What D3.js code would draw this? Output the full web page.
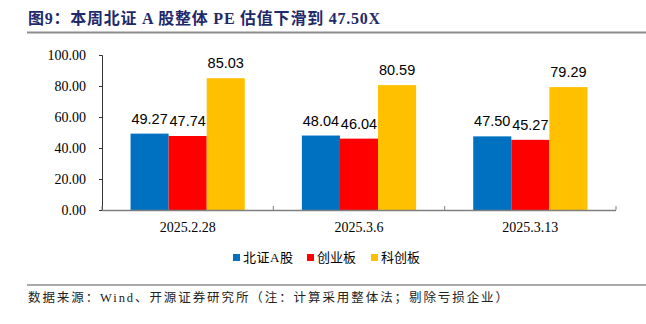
<!DOCTYPE html>
<html>
<head>
<meta charset="utf-8">
<script src="https://cdn.jsdelivr.net/npm/d3@7"></script>
<style>
  html, body { margin: 0; padding: 0; background: #fff; }
  svg { display: block; }
</style>
</head>
<body>
<svg id="chart" width="646" height="324"></svg>
<script>
// Weekly PE (overall method) for three boards
const dates = ["2025.2.28", "2025.3.6", "2025.3.13"];
const seriesNames = ["北证A股", "创业板", "科创板"];
const bseValues = [49.27, 48.04, 47.50];
const chinextValues = [47.74, 46.04, 45.27];
const starValues = [85.03, 80.59, 79.29];
const yTicks = [0, 20, 40, 60, 80, 100];

const colors = ["#0070C0", "#FF0000", "#FFC000"];
const seriesValues = [bseValues, chinextValues, starValues];

const svg = d3.select("#chart");

// Title and rules
svg.append("text")
  .attr("x", 28).attr("y", 24)
  .attr("font-family", "'Liberation Serif', 'Noto Sans CJK SC', serif")
  .attr("font-weight", "bold")
  .attr("font-size", 16)
  .attr("fill", "#1F2A6B")
  .attr("textLength", 352)
  .attr("lengthAdjust", "spacing")
  .text("图9：本周北证 A 股整体 PE 估值下滑到 47.50X");

svg.append("line")
  .attr("x1", 27).attr("x2", 646).attr("y1", 32.5).attr("y2", 32.5)
  .attr("stroke", "#8C8C8C").attr("stroke-width", 2);

svg.append("line")
  .attr("x1", 27).attr("x2", 646).attr("y1", 285).attr("y2", 285)
  .attr("stroke", "#8C8C8C").attr("stroke-width", 1.5);

svg.append("text")
  .attr("x", 28).attr("y", 302)
  .attr("font-family", "'Liberation Serif', 'Noto Sans CJK SC', serif")
  .attr("font-size", 12.5)
  .attr("fill", "#222")
  .attr("textLength", 480)
  .attr("lengthAdjust", "spacing")
  .text("数据来源：Wind、开源证券研究所（注：计算采用整体法；剔除亏损企业）");

// Plot area
const x0 = 102, x1 = 616, yTop = 55, yBottom = 210;

const x = d3.scaleBand().domain(dates).range([x0, x1]).paddingInner(0).paddingOuter(0);
const xs = d3.scaleBand().domain(seriesNames).range([0, x.bandwidth()]).paddingInner(0).paddingOuter(0.75);
const y = d3.scaleLinear().domain([0, 100]).range([yBottom, yTop]);

// Bars
const g = svg.append("g");
dates.forEach((d, i) => {
  seriesNames.forEach((s, j) => {
    const v = seriesValues[j][i];
    g.append("rect")
      .attr("x", x(d) + xs(s))
      .attr("y", y(v))
      .attr("width", xs.bandwidth())
      .attr("height", y(0) - y(v))
      .attr("fill", colors[j]);
    g.append("text")
      .attr("x", x(d) + xs(s) + xs.bandwidth() / 2)
      .attr("y", y(v) - 10)
      .attr("text-anchor", "middle")
      .attr("font-family", "'Liberation Sans', sans-serif")
      .attr("font-size", 14.5)
      .attr("fill", "#000")
      .text(v.toFixed(2));
  });
});

// Y axis
const yAxis = d3.axisLeft(y).tickValues(yTicks).tickSize(3).tickFormat(d3.format(".2f"));
const ya = svg.append("g").attr("transform", `translate(${x0},0)`).call(yAxis);
ya.select(".domain").attr("stroke", "#333");
ya.selectAll(".tick line").attr("stroke", "#333");
ya.selectAll(".tick text")
  .attr("x", -16)
  .attr("font-family", "'Liberation Serif', serif")
  .attr("font-size", 14)
  .attr("fill", "#000");

// X axis: boundary ticks between categories
const xa = svg.append("g").attr("transform", `translate(0,${yBottom})`);
xa.append("line").attr("x1", x0).attr("x2", x1).attr("y1", 0.5).attr("y2", 0.5)
  .attr("stroke", "#7F7F7F").attr("stroke-width", 1.5);
const bounds = dates.map(d => x(d)).concat([x1]);
xa.selectAll(".bt").data(bounds).enter().append("line")
  .attr("x1", d => d).attr("x2", d => d).attr("y1", 0).attr("y2", -4)
  .attr("stroke", "#7F7F7F");
xa.selectAll(".xl").data(dates).enter().append("text")
  .attr("x", d => x(d) + x.bandwidth() / 2)
  .attr("y", 22)
  .attr("text-anchor", "middle")
  .attr("font-family", "'Liberation Serif', serif")
  .attr("font-size", 14)
  .attr("fill", "#000")
  .text(d => d);

// Legend
const legendX = [233, 307, 371];
const legendLen = [50, 39, 39];
const lg = svg.append("g");
seriesNames.forEach((s, j) => {
  lg.append("rect")
    .attr("x", legendX[j]).attr("y", 254)
    .attr("width", 7).attr("height", 7)
    .attr("fill", colors[j]);
  lg.append("text")
    .attr("x", legendX[j] + 10).attr("y", 262)
    .attr("font-family", "'Liberation Serif', 'Noto Sans CJK SC', serif")
    .attr("font-size", 13)
    .attr("fill", "#000")
    .attr("textLength", legendLen[j])
    .attr("lengthAdjust", "spacing")
    .text(s);
});
</script>
</body>
</html>
